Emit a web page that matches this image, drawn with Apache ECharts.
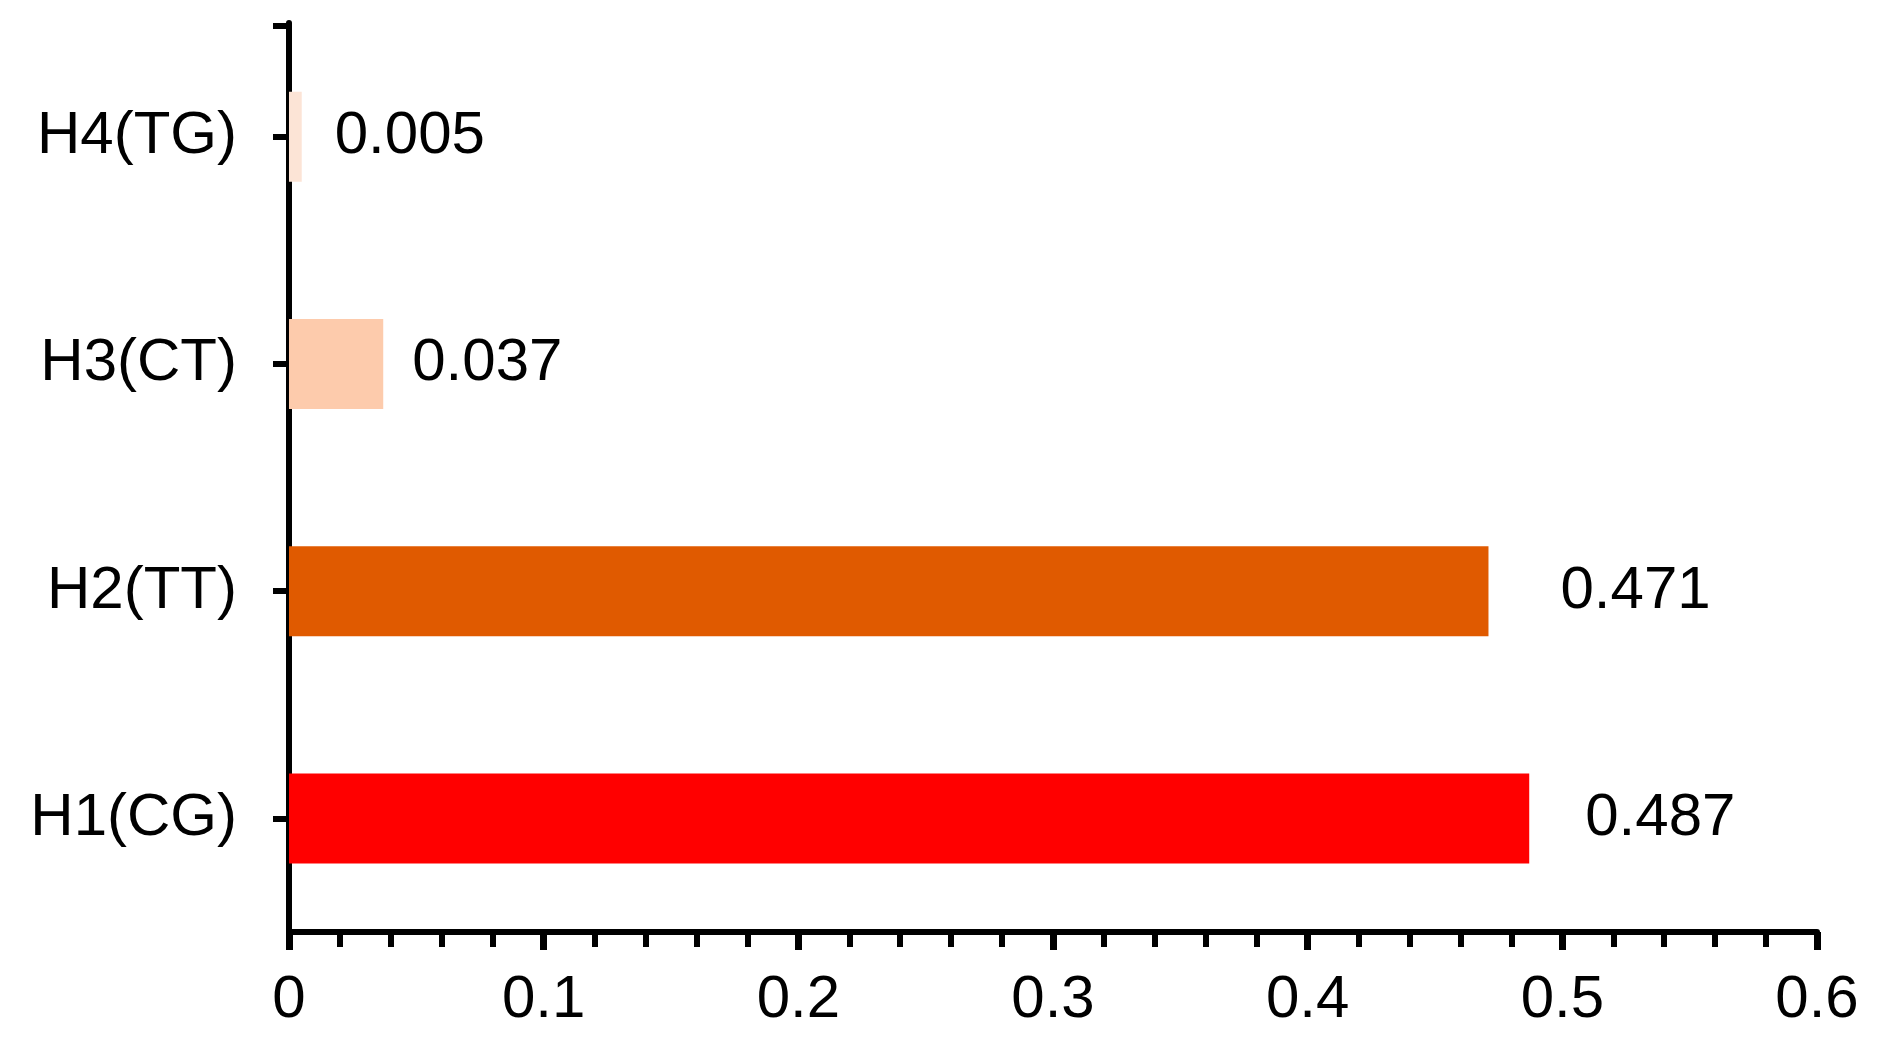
<!DOCTYPE html>
<html style="height: 100%">
<head>
    <meta charset="utf-8">
    <script src="https://cdn.jsdelivr.net/npm/echarts@6/dist/echarts.min.js"></script>
</head>
<body style="height: 100%; margin: 0; background: #fff">
<div id="container" style="width: 1895px; height: 1059px"></div>
<script type="text/javascript">
// haplotype frequencies, bottom to top
var haplotypes = ['H1(CG)', 'H2(TT)', 'H3(CT)', 'H4(TG)'];
var frequencies = [0.487, 0.471, 0.037, 0.005];

// styling per bar
var barColors = ['#FF0000', '#E05A00', '#FDCBAC', '#FCE4D6'];
var labelGap = [56, 72, 29, 33];

var font = 'Liberation Sans, Arial, sans-serif';

var myChart = echarts.init(document.getElementById('container'));

var option = {
    animation: false,
    grid: {
        left: 289,
        right: 78,
        top: 23,
        bottom: 127
    },
    xAxis: {
        type: 'value',
        min: 0,
        max: 0.6,
        interval: 0.1,
        splitLine: { show: false },
        axisLine: {
            show: true,
            lineStyle: { color: '#000', width: 6 }
        },
        axisTick: {
            show: true,
            length: 18,
            lineStyle: { color: '#000', width: 7 }
        },
        minorTick: {
            show: true,
            splitNumber: 5,
            length: 15,
            lineStyle: { color: '#000', width: 6 }
        },
        axisLabel: {
            margin: 38,
            color: '#000',
            fontSize: 60,
            fontFamily: font
        }
    },
    yAxis: {
        type: 'category',
        data: haplotypes,
        axisLine: {
            show: true,
            // small cap at the top end, pointing left
            symbol: ['none', 'path://M0,0 L16,0 L16,6 L0,6 Z M32,0 L32,6'],
            symbolSize: [32, 6],
            symbolOffset: [0, -3],
            lineStyle: { color: '#000', width: 6 }
        },
        axisTick: {
            show: true,
            alignWithLabel: true,
            length: 16,
            lineStyle: { color: '#000', width: 6 }
        },
        axisLabel: {
            margin: 52,
            color: '#000',
            fontSize: 60,
            fontFamily: font,
            padding: [6, 0, 0, 0]
        }
    },
    series: [{
        type: 'bar',
        barWidth: 90,
        data: frequencies.map(function (v, i) {
            return {
                value: v,
                itemStyle: { color: barColors[i] },
                label: { distance: labelGap[i] }
            };
        }),
        label: {
            show: true,
            position: 'right',
            color: '#000',
            fontSize: 60,
            fontFamily: font,
            padding: [6, 0, 0, 0],
            formatter: function (p) { return p.value.toFixed(3); }
        }
    }]
};

myChart.setOption(option);
</script>
</body>
</html>
